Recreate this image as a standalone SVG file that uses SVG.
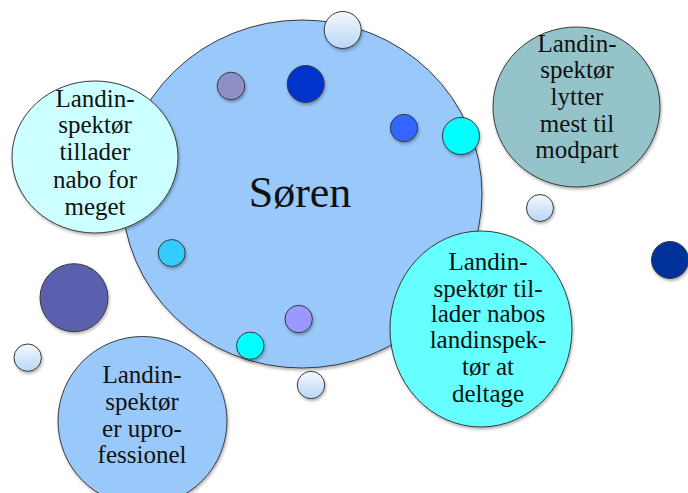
<svg xmlns="http://www.w3.org/2000/svg" width="688" height="493" viewBox="0 0 688 493">
<defs>
<filter id="sh" x="-20%" y="-20%" width="140%" height="140%">
<feDropShadow dx="1" dy="2" stdDeviation="1.5" flood-color="#000" flood-opacity="0.3"/>
</filter>
<linearGradient id="lg" x1="0" y1="0" x2="0" y2="1">
<stop offset="0" stop-color="#f6f9ff"/>
<stop offset="1" stop-color="#b7d6f6"/>
</linearGradient>
<style>
.c{stroke:#3a3a3a;stroke-width:1;filter:url(#sh)}
.t{font-family:"Liberation Serif","Times New Roman",serif;font-size:25px;fill:#111;text-anchor:middle}
.big{font-size:44px}
</style>
</defs>
<rect width="688" height="493" fill="#fff"/>
<g id="soren">
<ellipse class="c" cx="302" cy="194" rx="180" ry="174" fill="#99c8fa"/>
<text class="t big" x="300" y="207">Søren</text>
</g>
<g id="node-tillader-nabo">
<ellipse class="c" cx="95" cy="157" rx="83" ry="76" fill="#ccffff"/>
<text class="t"><tspan x="95" y="107">Landin-</tspan><tspan x="95" y="133">spektør</tspan><tspan x="95" y="160">tillader</tspan><tspan x="95" y="188">nabo for</tspan><tspan x="95" y="215">meget</tspan></text>
</g>
<g id="node-lytter">
<ellipse class="c" cx="576.5" cy="107" rx="83.5" ry="80" fill="#94c3c9"/>
<text class="t"><tspan x="577" y="52">Landin-</tspan><tspan x="577" y="78">spektør</tspan><tspan x="577" y="105">lytter</tspan><tspan x="577" y="132">mest til</tspan><tspan x="577" y="158">modpart</tspan></text>
</g>
<g id="node-nabos-landinspektor">
<ellipse class="c" cx="481" cy="329" rx="91" ry="98" fill="#66ffff"/>
<text class="t"><tspan x="488" y="270">Landin-</tspan><tspan x="488" y="297">spektør til-</tspan><tspan x="488" y="322">lader nabos</tspan><tspan x="488" y="348">landinspek-</tspan><tspan x="488" y="375">tør at</tspan><tspan x="488" y="402">deltage</tspan></text>
</g>
<g id="node-uprofessionel">
<circle class="c" cx="142.5" cy="421" r="84.5" fill="#99c8fa"/>
<text class="t"><tspan x="142" y="383">Landin-</tspan><tspan x="142" y="410">spektør</tspan><tspan x="142" y="437">er upro-</tspan><tspan x="142" y="463">fessionel</tspan></text>
</g>
<g id="dots">
<circle class="c" cx="342.7" cy="30" r="18.5" fill="url(#lg)"/>
<circle class="c" cx="231" cy="86" r="13.8" fill="#9090c6"/>
<circle class="c" cx="305.7" cy="84" r="18.5" fill="#0033cc"/>
<circle class="c" cx="404" cy="128" r="13.7" fill="#3366ff"/>
<circle class="c" cx="461" cy="136" r="18.5" fill="#00ffff"/>
<circle class="c" cx="171.7" cy="253" r="13.5" fill="#33ccff"/>
<circle class="c" cx="298.7" cy="319" r="13.7" fill="#9999ff"/>
<circle class="c" cx="250.3" cy="345.7" r="13.7" fill="#00ffff"/>
<circle class="c" cx="74" cy="297.7" r="34" fill="#5a5fae"/>
<circle class="c" cx="27.7" cy="357.7" r="13.7" fill="url(#lg)"/>
<circle class="c" cx="311" cy="385" r="13.7" fill="url(#lg)"/>
<circle class="c" cx="540" cy="208" r="13.5" fill="url(#lg)"/>
<circle class="c" cx="670" cy="260" r="18.5" fill="#003399"/>
</g>
<g id="connectors"></g>
</svg>
